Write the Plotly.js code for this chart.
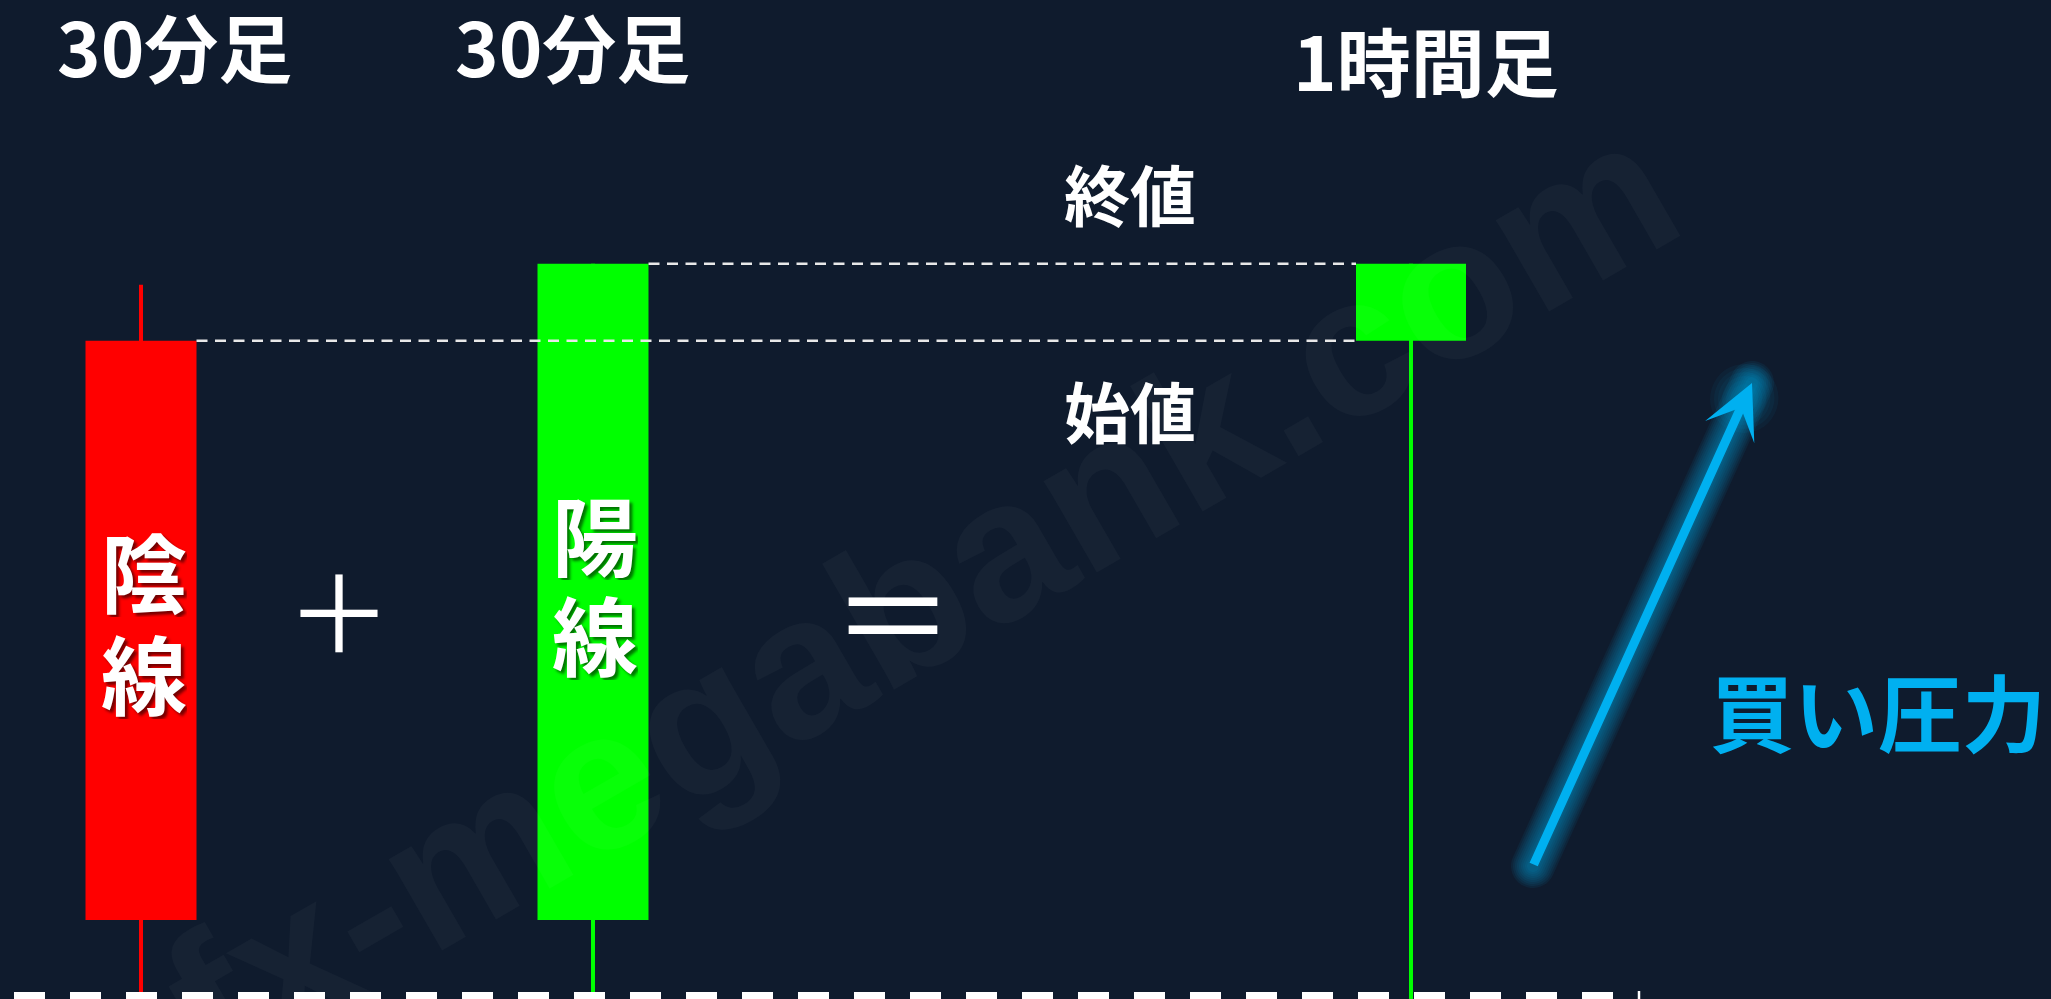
<!DOCTYPE html>
<html><head><meta charset="utf-8">
<script src="https://cdn.plot.ly/plotly-3.0.1.min.js"></script>
<style>html,body{margin:0;padding:0;background:#0f1b2d;overflow:hidden}</style>
</head><body><div id="chart" style="width:2051px;height:999px"></div>
<script>
// ---------- data ----------
const candleNames = ['30分足', '30分足', '1時間足'];
const candleLabels = ['陰線', '陽線', ''];
const openVals  = [106.59, 100.79, 106.59];
const highVals  = [107.15, 107.36, 107.36];
const lowVals   = [99.5, 99.5, 99.5];
const closeVals = [100.79, 107.36, 107.36];
const priceLabels = ['終値', '始値'];
const operatorLabels = ['＋', '＝'];
const pressureLabel = '買い圧力';
const watermarkText = 'fx-megabank.com';

// ---------- layout constants (positions / sizes / styles) ----------
const W = 2051, H = 999;
const BG = '#0f1b2d';
const UP = '#00ff00', DOWN = '#ff0000', CYAN = '#00b0f0';
const FONT = 'Noto Sans CJK JP';
const candleX = [141, 593, 1411];
const bodyW = [111, 111, 110];
const titlePos = [[174, 44], [572, 44], [1426, 58]];
const labelPos = [[144, 569, 671], [595, 532, 632]];
const priceLabelPos = [[1130, 192], [1130, 409]];
const operatorPos = [[339, 607], [893, 608]];
const operatorSize = [106, 122];
const arrowTail = [1533, 866], arrowTip = [1752, 383];
const pressurePos = [1878, 709];

// ---------- traces ----------
const colors = openVals.map((o, i) => closeVals[i] >= o ? UP : DOWN);
const traces = [];
candleX.forEach((x, i) => {
  traces.push({
    type: 'scatter', mode: 'lines', x: [x, x], y: [lowVals[i], highVals[i]],
    line: {color: colors[i], width: 4}, hoverinfo: 'skip', showlegend: false
  });
});
traces.push({
  type: 'bar', x: candleX,
  base: openVals.map((o, i) => Math.min(o, closeVals[i])),
  y: openVals.map((o, i) => Math.abs(closeVals[i] - o)),
  width: bodyW, marker: {color: colors, line: {width: 0}},
  hoverinfo: 'skip', showlegend: false
});

// ---------- shapes ----------
const shapes = [];
function stadium(p0, p1, r) {
  const dx = p1[0] - p0[0], dy = p1[1] - p0[1];
  const a = Math.atan2(dy, dx);
  const pts = [];
  for (let k = 0; k <= 20; k++) {
    const t = a + Math.PI / 2 + Math.PI * k / 20;
    pts.push([p0[0] + r * Math.cos(t), p0[1] + r * Math.sin(t)]);
  }
  for (let k = 0; k <= 20; k++) {
    const t = a - Math.PI / 2 + Math.PI * k / 20;
    pts.push([p1[0] + r * Math.cos(t), p1[1] + r * Math.sin(t)]);
  }
  return 'M' + pts.map(p => p[0].toFixed(1) + ',' + p[1].toFixed(1)).join('L') + 'Z';
}
// soft glow around the arrow
for (let r = 22; r >= 6; r -= 2) {
  shapes.push({type: 'path', xref: 'x', yref: 'y2', layer: 'below',
    path: stadium(arrowTail, arrowTip, r), fillcolor: 'rgba(0,176,240,0.065)', line: {width: 0}});
}
const headGlow = [arrowTip[0] - 8, arrowTip[1] + 16];
for (let r = 34; r >= 14; r -= 4) {
  shapes.push({type: 'path', xref: 'x', yref: 'y2', layer: 'below',
    path: stadium(headGlow, [headGlow[0] + 0.5, headGlow[1] - 1], r), fillcolor: 'rgba(0,176,240,0.05)', line: {width: 0}});
}
// dashed guides
const guideStyle = {color: '#e8e8e8', width: 2.5, dash: '11px,7.5px'};
shapes.push({type: 'line', xref: 'x', yref: 'y',
  x0: candleX[0] + bodyW[0] / 2, x1: candleX[2] - bodyW[2] / 2,
  y0: openVals[0], y1: openVals[0], line: guideStyle});
shapes.push({type: 'line', xref: 'x', yref: 'y',
  x0: candleX[1] + bodyW[1] / 2, x1: candleX[2] - bodyW[2] / 2,
  y0: closeVals[1], y1: closeVals[1], line: guideStyle});
// bottom dashed baseline
shapes.push({type: 'line', xref: 'x', yref: 'y2', x0: 14, x1: 1638, y0: 997, y1: 997,
  line: {color: '#ffffff', width: 10, dash: '31px,25px'}});
shapes.push({type: 'line', xref: 'x', yref: 'y2', x0: 1639, x1: 1639, y0: 991, y1: 1000,
  line: {color: '#ffffff', width: 2.5}});

// ---------- annotations ----------
const ann = [];
ann.push({xref: 'x', yref: 'y2', x: 920, y: 595, text: watermarkText, showarrow: false,
  textangle: -30, font: {family: 'Liberation Sans', size: 200, weight: 700, color: 'rgba(255,255,255,0.033)'}});
candleNames.forEach((t, i) => {
  ann.push({xref: 'x', yref: 'y2', x: titlePos[i][0], y: titlePos[i][1], text: t, showarrow: false,
    xanchor: 'center', yanchor: 'middle', valign: 'middle', height: 84,
    font: {family: FONT, size: 74, weight: 700, color: '#ffffff'}});
});
candleLabels.forEach((t, i) => {
  [...t].forEach((ch, j) => {
    ann.push({xref: 'x', yref: 'y2', x: labelPos[i][0], y: labelPos[i][1 + j], text: ch, showarrow: false,
      xanchor: 'center', yanchor: 'middle', valign: 'middle', height: 96,
      font: {family: FONT, size: 86, weight: 700, color: '#ffffff', shadow: '3px 3px 3px rgba(0,0,0,0.55)'}});
  });
});
priceLabels.forEach((t, i) => {
  ann.push({xref: 'x', yref: 'y2', x: priceLabelPos[i][0], y: priceLabelPos[i][1], text: t, showarrow: false,
    xanchor: 'center', yanchor: 'middle', font: {family: FONT, size: 66, weight: 700, color: '#ffffff'}});
});
operatorLabels.forEach((t, i) => {
  ann.push({xref: 'x', yref: 'y2', x: operatorPos[i][0], y: operatorPos[i][1], text: t, showarrow: false,
    xanchor: 'center', yanchor: 'middle', font: {family: FONT, size: operatorSize[i], weight: 400, color: '#ffffff'}});
});
ann.push({xref: 'x', yref: 'y2', x: arrowTip[0], y: arrowTip[1], text: '', showarrow: true,
  axref: 'pixel', ayref: 'pixel', ax: arrowTail[0] - arrowTip[0], ay: arrowTail[1] - arrowTip[1],
  arrowhead: 3, arrowsize: 1.0, arrowwidth: 9, arrowcolor: CYAN, standoff: 0});
ann.push({xref: 'x', yref: 'y2', x: pressurePos[0], y: pressurePos[1], text: pressureLabel, showarrow: false,
  xanchor: 'center', yanchor: 'middle', font: {family: FONT, size: 84, weight: 700, color: CYAN}});

const layout = {
  width: W, height: H, margin: {l: 0, r: 0, t: 0, b: 0, pad: 0},
  paper_bgcolor: BG, plot_bgcolor: BG, showlegend: false, dragmode: false,
  xaxis: {range: [0, W], visible: false, fixedrange: true},
  yaxis: {range: [100, 110], visible: false, fixedrange: true},
  yaxis2: {range: [H, 0], overlaying: 'y', visible: false, fixedrange: true},
  shapes: shapes, annotations: ann
};
Plotly.newPlot('chart', traces, layout, {staticPlot: true, displayModeBar: false});
</script></body></html>
